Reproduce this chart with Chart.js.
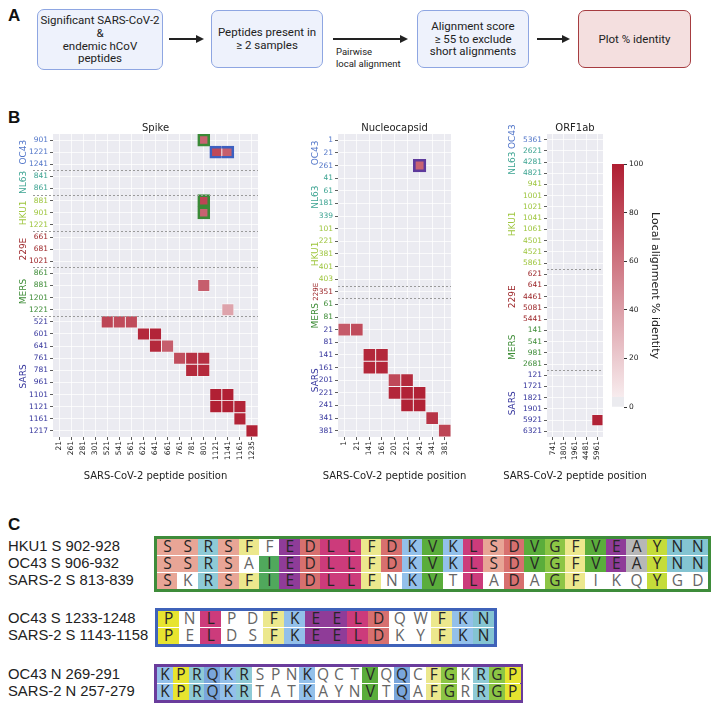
<!DOCTYPE html>
<html>
<head>
<meta charset="utf-8">
<script src="https://cdn.jsdelivr.net/npm/chart.js@4.4.0/dist/chart.umd.min.js"></script>
<style>
body { margin: 0; background: #fff; }
#page { position: relative; width: 715px; height: 705px; overflow: hidden; font-family: Roboto, "Liberation Sans", sans-serif; color: #222; }
.abs { position: absolute; }
.plabel { position: absolute; font: bold 17px "Liberation Sans", Arial, sans-serif; color: #111; }
.step { position: absolute; box-sizing: border-box; border: 1.3px solid #8ea6e2; background: #eef2fc; border-radius: 7px;
        display: flex; align-items: center; justify-content: center; text-align: center; font-size: 11.5px; line-height: 12.8px; }
.arrow { position: absolute; height: 1.6px; background: #222; }
.arrow:after { content: ''; position: absolute; right: -2px; top: -3.4px; border-left: 8px solid #222; border-top: 4.2px solid transparent; border-bottom: 4.2px solid transparent; }
canvas { position: absolute; }
.res { position: absolute; text-align: center; font: 15.5px "Open Sans", sans-serif; }
.seqname { position: absolute; font: 14.8px "Liberation Sans", Arial, sans-serif; color: #222; white-space: nowrap; }
.frame { position: absolute; box-sizing: border-box; border: 3px solid; background: #fff; }
</style>
</head>
<body>
<div id="page">
  <div class="plabel" style="left:8px;top:6px">A</div>
  <div class="step" style="left:37px;top:9px;width:126px;height:61px">Significant SARS-CoV-2<br>&amp;<br>endemic hCoV<br>peptides</div>
  <div class="arrow" style="left:169px;top:38px;width:33px"></div>
  <div class="step" style="left:211px;top:10px;width:112px;height:58px">Peptides present in<br>≥ 2 samples</div>
  <div class="arrow" style="left:333px;top:38px;width:73px"></div>
  <div class="abs" style="left:336px;top:46px;font-size:9.5px;line-height:12px">Pairwise<br>local alignment</div>
  <div class="step" style="left:417px;top:10px;width:112px;height:58px">Alignment score<br>≥ 55 to exclude<br>short alignments</div>
  <div class="arrow" style="left:537px;top:38px;width:31px"></div>
  <div class="step" style="left:578px;top:10px;width:113px;height:58px;background:#f4dfdf;border-color:#a63c40">Plot % identity</div>

  <div class="plabel" style="left:8px;top:108px">B</div>
  <canvas id="spike" width="266" height="365" style="left:0px;top:122px"></canvas>
  <canvas id="ncap" width="190" height="365" style="left:290px;top:122px"></canvas>
  <canvas id="orf" width="160" height="365" style="left:495px;top:122px"></canvas>
  <canvas id="cbar" width="75" height="270" style="left:600px;top:150px"></canvas>

  <div class="plabel" style="left:8px;top:515px">C</div>
  <div id="aln"></div>
</div>
<script>
// ---- panel B data ----
const groupNames = ['OC43', 'NL63', 'HKU1', '229E', 'MERS', 'SARS'];
const groupColors = ['#5276c9', '#3ba391', '#9dc53c', '#9b2326', '#3d8c36', '#34349c'];

const spikeCols = [21, 261, 281, 301, 521, 541, 561, 621, 641, 661, 761, 781, 801, 1121, 1141, 1161, 1235];
const spikeRows = [[901, 1221, 1241], [841, 861], [881, 901, 1221], [661, 681, 1021], [861, 881, 1201, 1221],
                   [521, 601, 641, 761, 781, 961, 1101, 1121, 1161, 1217]];
// [virus, virus position, SARS-CoV-2 position, % identity]
const spikeCells = [
  ['OC43', 901, 801, 68], ['OC43', 1221, 1121, 80], ['OC43', 1221, 1141, 70],
  ['HKU1', 881, 801, 82], ['HKU1', 901, 801, 68],
  ['MERS', 881, 801, 70], ['MERS', 1221, 1141, 38],
  ['SARS', 521, 521, 82], ['SARS', 521, 541, 79], ['SARS', 521, 561, 79],
  ['SARS', 601, 621, 95], ['SARS', 601, 641, 97],
  ['SARS', 641, 641, 95], ['SARS', 641, 661, 70],
  ['SARS', 761, 761, 78], ['SARS', 761, 781, 91], ['SARS', 761, 801, 92],
  ['SARS', 781, 781, 95], ['SARS', 781, 801, 95],
  ['SARS', 1101, 1121, 99], ['SARS', 1101, 1141, 99],
  ['SARS', 1121, 1121, 99], ['SARS', 1121, 1141, 99], ['SARS', 1121, 1161, 97],
  ['SARS', 1161, 1161, 97], ['SARS', 1217, 1235, 98]
];
const spikeBoxes = [['OC43', 901, 801, 'green'], ['OC43', 1221, 1121, 'blue'], ['OC43', 1221, 1141, 'blue'],
                    ['HKU1', 881, 801, 'green'], ['HKU1', 901, 801, 'green']];

const ncapCols = [1, 21, 141, 161, 201, 221, 241, 341, 381];
const ncapRows = [[1, 21, 261], [41, 61, 181, 339], [101, 221, 381, 401, 403], [351], [61, 81],
                  [21, 81, 141, 161, 201, 221, 241, 341, 381]];
const ncapCells = [
  ['OC43', 261, 241, 68],
  ['SARS', 21, 1, 72], ['SARS', 21, 21, 79],
  ['SARS', 141, 141, 96], ['SARS', 141, 161, 96], ['SARS', 161, 141, 96], ['SARS', 161, 161, 96],
  ['SARS', 201, 201, 80], ['SARS', 201, 221, 94],
  ['SARS', 221, 201, 96], ['SARS', 221, 221, 98], ['SARS', 221, 241, 98],
  ['SARS', 241, 221, 98], ['SARS', 241, 241, 98],
  ['SARS', 341, 341, 90], ['SARS', 381, 381, 82]
];
const ncapBoxes = [['OC43', 261, 241, 'purple']];

const orfCols = [741, 1801, 1961, 4481, 5961];
const orfRows = [[5361], [2621, 4281, 4821], [941, 1001, 1021, 1041, 1061, 4501, 4521, 5861],
                 [621, 641, 4461, 5081, 5441], [141, 541, 981, 2681], [121, 1721, 1821, 1901, 5921, 6321]];
const orfCells = [['SARS', 5921, 5961, 98]];
const orfBoxes = [];

const cbarTicks = [0, 20, 40, 60, 80, 100];

const boxColors = { green: '#3b8a37', blue: '#3d60c0', purple: '#5e3a9c' };

// ---- panel C data ----
const aln1Names = ['HKU1 S 902-928', 'OC43 S 906-932', 'SARS-2 S 813-839'];
const aln1Seqs = ['SSRSFFEDLLFDKVKLSDVGFVEAYNN', 'SSRSAIEDLLFDKVKLSDVGFVEAYNN', 'SKRSFIEDLLFNKVTLADAGFIKQYGD'];
const aln1Shade = ['111110111111111111111111111', '111101111111111111111111111', '101111111110110101011000100'];
const aln2Names = ['OC43 S 1233-1248', 'SARS-2 S 1143-1158'];
const aln2Seqs = ['PNLPDFKEELDQWFKN', 'PELDSFKEELDKYFKN'];
const aln2Shade = ['1010011111100111', '1010011111100111'];
const aln3Names = ['OC43 N 269-291', 'SARS-2 N 257-279'];
const aln3Seqs = ['KPRQKRSPNKQCTVQQCFGKRGP', 'KPRQKRTATKAYNVTQAFGRRGP'];
const aln3Shade = ['11111100010001010110111', '11111100010001010110111'];
const resColors = { S: '#e8a596', R: '#8ecad6', K: '#93c0ea', N: '#84c4d2', Q: '#7aa6dc', F: '#ece88d', E: '#8f3c98',
  D: '#d7706f', L: '#cc3b7b', V: '#5aad3b', I: '#50a85c', G: '#8cc545', A: '#b7b7b7', Y: '#c5dc3a', P: '#e7e42f' };

Chart.defaults.font.family = '"DejaVu Sans", sans-serif';
Chart.defaults.color = '#222';

function heat(v) {
  const t = Math.max(0, Math.min(1, (v - 4) / 96));
  const lo = [247, 236, 238], hi = [176, 30, 50];
  return 'rgb(' + lo.map((c, i) => Math.round(c + (hi[i] - c) * t)).join(',') + ')';
}

function decoPlugin(o) {
  return {
    id: 'deco',
    beforeDraw(chart) {
      const a = chart.chartArea, c = chart.ctx;
      c.save();
      c.fillStyle = '#ebebf1';
      c.fillRect(a.left, a.top, a.right - a.left, a.bottom - a.top);
      c.restore();
    },
    afterDraw(chart) {
      const a = chart.chartArea, c = chart.ctx, y = chart.scales.y;
      c.save();
      c.strokeStyle = '#9a9a9a';
      c.lineWidth = 1;
      c.setLineDash([2, 2]);
      o.breaks.forEach(b => {
        const py = Math.round(y.getPixelForValue(b - 0.5)) + 0.5;
        c.beginPath();
        c.moveTo(a.left - o.reach, py);
        c.lineTo(a.right, py);
        c.stroke();
      });
      c.setLineDash([]);
      c.textAlign = 'center';
      c.textBaseline = 'middle';
      o.spans.forEach(s => {
        const tweak = o.tweak[s.g] || {};
        const yc = (y.getPixelForValue(s.from - 0.5) + y.getPixelForValue(s.to + 0.5)) / 2 + (tweak.dy || 0);
        c.save();
        c.font = (tweak.size || 9) + 'px "DejaVu Sans"';
        c.translate(o.labelX, yc);
        c.rotate(-Math.PI / 2);
        c.fillStyle = groupColors[s.g];
        c.fillText(groupNames[s.g], 0, 0);
        c.restore();
      });
      c.font = '10px "DejaVu Sans"';
      c.fillStyle = '#222';
      c.fillText('SARS-CoV-2 peptide position', (a.left + a.right) / 2, a.bottom + 39);
      c.restore();
    }
  };
}

function heatmap(id, title, cols, rowsByGroup, cells, boxes, look) {
  const labels = [], grp = [], start = [], spans = [];
  rowsByGroup.forEach((rs, g) => {
    start.push(labels.length);
    spans.push({ g: g, from: labels.length, to: labels.length + rs.length - 1 });
    rs.forEach(r => { labels.push(String(r)); grp.push(g); });
  });
  const n = labels.length;
  const row = (name, pos) => { const g = groupNames.indexOf(name); return start[g] + rowsByGroup[g].indexOf(pos); };
  const cellData = cells.map(([g, p, col, v]) => ({ x: String(col), y: [row(g, p) - 0.5, row(g, p) + 0.5], v: v }));
  const boxData = boxes.map(([g, p, col, key]) => {
    const r = row(g, p);
    const ci = cols.indexOf(col);
    const joined = k => boxes.some(b => b[3] === key && row(b[0], b[1]) === r && cols.indexOf(b[2]) === ci + k);
    return { x: String(col), y: [r - 0.5, r + 0.5], color: boxColors[key],
             bw: { top: 2, bottom: 2, left: joined(-1) ? 0 : 2, right: joined(1) ? 0 : 2 } };
  });
  const breaks = look.breaks.map(g => start[g]);

  new Chart(document.getElementById(id), {
    type: 'bar',
    data: {
      labels: cols.map(String),
      datasets: [
        // outlines first so they are painted over the cells
        { data: boxData, backgroundColor: 'rgba(0,0,0,0)', borderColor: boxData.map(d => d.color),
          borderWidth: c => (c.dataIndex !== undefined && boxData[c.dataIndex]) ? boxData[c.dataIndex].bw : 2,
          borderSkipped: false, grouped: false, categoryPercentage: 1, barPercentage: 1 },
        { data: cellData, backgroundColor: cellData.map(d => heat(d.v)), borderColor: 'rgba(255,255,255,0.45)',
          borderWidth: 0.8, borderSkipped: false, grouped: false, categoryPercentage: 1, barPercentage: 1 }
      ]
    },
    options: {
      responsive: false,
      animation: false,
      events: [],
      layout: { padding: { left: 0, right: look.padR, top: 0, bottom: 0 } },
      plugins: {
        legend: { display: false },
        tooltip: { enabled: false },
        title: { display: true, text: title, fullSize: false, font: { size: 10, weight: 'normal' }, color: '#222',
                 padding: { top: 0, bottom: 0 } }
      },
      scales: {
        x: {
          type: 'category', offset: true,
          grid: { color: 'rgba(255,255,255,0.9)', lineWidth: 0.8, offset: false, tickLength: 3, tickColor: '#333' },
          border: { display: false },
          ticks: { autoSkip: false, minRotation: 90, maxRotation: 90, font: { size: 7.5 }, color: '#222', padding: 1 },
          afterFit: s => { s.height = 50; }
        },
        y: {
          type: 'linear', reverse: true, min: -0.5, max: n - 0.5,
          afterBuildTicks: s => { s.ticks = labels.map((l, i) => ({ value: i })); },
          grid: { color: 'rgba(255,255,255,0.9)', lineWidth: 0.8, tickLength: 3, tickColor: '#333' },
          border: { display: false },
          ticks: { autoSkip: false, font: { size: 7.5 }, padding: 2,
                   callback: v => labels[v],
                   color: c => groupColors[grp[c.tick ? c.tick.value : 0]] },
          afterFit: s => { s.width = look.axisW; }
        }
      }
    },
    plugins: [decoPlugin({ breaks: breaks, spans: spans, labelX: look.labelX, reach: look.reach, tweak: look.tweak || {} })]
  });
}

heatmap('spike', 'Spike', spikeCols, spikeRows, spikeCells, spikeBoxes,
        { axisW: 53, padR: 8, labelX: 24, reach: 20, breaks: [1, 2, 3, 4, 5] });
heatmap('ncap', 'Nucleocapsid', ncapCols, ncapRows, ncapCells, ncapBoxes,
        { axisW: 48, padR: 29, labelX: 26, reach: 0, breaks: [3, 4], tweak: { 3: { size: 7 }, 4: { dy: 5 } } });
heatmap('orf', 'ORF1ab', orfCols, orfRows, orfCells, orfBoxes,
        { axisW: 52, padR: 52, labelX: 18, reach: 0, breaks: [3, 5], tweak: { 0: { dy: -3 }, 1: { dy: 1 } } });

// colour bar
const cbarTitle = {
  id: 'cbarTitle',
  afterDraw(chart) {
    const a = chart.chartArea, c = chart.ctx;
    c.save();
    c.font = '11px "DejaVu Sans"';
    c.fillStyle = '#222';
    c.textAlign = 'center';
    c.textBaseline = 'middle';
    c.translate(a.right + 31, (a.top + a.bottom) / 2);
    c.rotate(Math.PI / 2);
    c.fillText('Local alignment % identity', 0, 0);
    c.restore();
  }
};
new Chart(document.getElementById('cbar'), {
  type: 'bar',
  data: {
    labels: [''],
    datasets: [{
      data: [[cbarTicks[0], cbarTicks[cbarTicks.length - 1]]],
      categoryPercentage: 1, barPercentage: 1, borderWidth: 0,
      backgroundColor: c => {
        const ch = c.chart;
        if (!ch.chartArea) return '#ccc';
        const y = ch.scales.y;
        const g = ch.ctx.createLinearGradient(0, y.getPixelForValue(0), 0, y.getPixelForValue(100));
        g.addColorStop(0, '#ebebef');
        g.addColorStop(0.04, '#ebebef');
        g.addColorStop(0.041, heat(4));
        for (let v = 10; v <= 100; v += 10) g.addColorStop(v / 100, heat(v));
        return g;
      }
    }]
  },
  options: {
    responsive: false,
    animation: false,
    events: [],
    layout: { padding: { left: 12, right: 11, top: 14, bottom: 13 } },
    plugins: { legend: { display: false }, tooltip: { enabled: false } },
    scales: {
      x: { display: false, offset: true },
      y: {
        position: 'right', min: 0, max: 100,
        afterBuildTicks: s => { s.ticks = cbarTicks.map(v => ({ value: v })); },
        grid: { drawOnChartArea: false, tickLength: 3, tickColor: '#333' },
        border: { display: false },
        ticks: { font: { size: 7.5 }, color: '#222', padding: 2 },
        afterFit: s => { s.width = 40; }
      }
    }
  },
  plugins: [cbarTitle]
});

// ---- panel C: alignments ----
const alnBlocks = [
  { names: aln1Names, seqs: aln1Seqs, shade: aln1Shade, frame: '#3e8c3a', left: 154, top: 536, cw: 20.4 },
  { names: aln2Names, seqs: aln2Seqs, shade: aln2Shade, frame: '#3f62b9', left: 155, top: 608, cw: 21 },
  { names: aln3Names, seqs: aln3Seqs, shade: aln3Shade, frame: '#6a3c9c', left: 154, top: 664, cw: 15.8 }
];
const rowH = 15.5, gap = 1.5, bw = 3;
const host = document.getElementById('aln');
alnBlocks.forEach(b => {
  const len = b.seqs[0].length;
  const fr = document.createElement('div');
  fr.className = 'frame';
  fr.style.cssText = `left:${b.left}px;top:${b.top}px;width:${2 * bw + len * b.cw}px;` +
    `height:${2 * bw + b.seqs.length * rowH + (b.seqs.length - 1) * gap}px;border-color:${b.frame}`;
  host.appendChild(fr);
  b.seqs.forEach((seq, r) => {
    const top = b.top + bw + r * (rowH + gap);
    const nm = document.createElement('div');
    nm.className = 'seqname';
    nm.style.cssText = `left:8px;top:${top}px;line-height:${rowH}px`;
    nm.textContent = b.names[r];
    host.appendChild(nm);
    [...seq].forEach((ch, i) => {
      const on = b.shade[r][i] === '1';
      const sp = document.createElement('div');
      sp.className = 'res';
      sp.style.cssText = `left:${b.left + bw + i * b.cw}px;top:${top}px;width:${b.cw + 0.4}px;height:${rowH}px;` +
        `line-height:${rowH}px;background:${on ? resColors[ch] : '#fff'};color:${on ? '#262626' : '#666'}`;
      sp.textContent = ch;
      host.appendChild(sp);
    });
  });
});
</script>
</body>
</html>
